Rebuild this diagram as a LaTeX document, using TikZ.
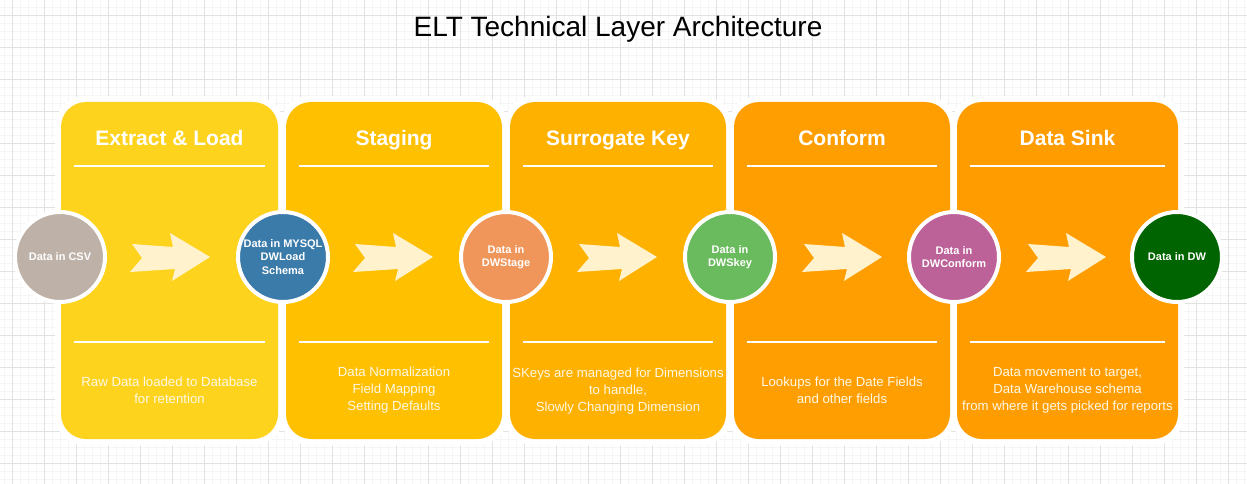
\documentclass[tikz,border=0pt]{standalone}
\usepackage{fontspec}
\setmainfont{Liberation Sans}
\definecolor{gridminor}{HTML}{F5F5F5}
\definecolor{gridmajor}{HTML}{E2E2E2}
\definecolor{pA}{HTML}{FED31E}
\definecolor{pB}{HTML}{FFC000}
\definecolor{pC}{HTML}{FFB100}
\definecolor{pD}{HTML}{FF9E00}
\definecolor{pE}{HTML}{FF9D00}
\definecolor{cA}{HTML}{BDB1A8}
\definecolor{cB}{HTML}{3B7BAA}
\definecolor{cC}{HTML}{F0965A}
\definecolor{cD}{HTML}{6ABB5D}
\definecolor{cE}{HTML}{BD6199}
\definecolor{cF}{HTML}{006400}
\definecolor{arrowcream}{HTML}{FFF2CC}
\definecolor{bodytext}{HTML}{FFF8E6}
\begin{document}
\begin{tikzpicture}[x=1pt,y=-1pt,
  halo/.style={fill=white, rounded corners=30pt},
  panelfill/.style={rounded corners=25pt},
  head/.style={text=white, font=\fontsize{21}{25}\selectfont\bfseries, inner sep=0pt, anchor=base},
  bodytxt/.style={text=bodytext, font=\fontsize{13.2}{17}\selectfont, align=center, inner sep=0pt},
  sepline/.style={draw=white, line width=2pt},
  datacircle/.style={circle, draw=white, line width=4pt, minimum size=90pt, inner sep=0pt,
     text=white, font=\fontsize{11}{13.5}\selectfont\bfseries, align=center},
  chevron/.style={fill=arrowcream},
  titletxt/.style={font=\fontsize{28}{32}\selectfont, text=black, inner sep=0pt, anchor=base}
]
\useasboundingbox (0,0) rectangle (1247,484);
\fill[white] (0,0) rectangle (1247,484);
% grid
\foreach \x in {4,12,...,1247} \draw[gridminor, line width=0.6pt] (\x,0) -- (\x,484);
\foreach \y in {7,15,...,484} \draw[gridminor, line width=0.6pt] (0,\y) -- (1247,\y);
\foreach \x in {12,44,...,1247} \draw[gridmajor, line width=0.8pt] (\x,0) -- (\x,484);
\foreach \y in {15,47,...,484} \draw[gridmajor, line width=0.8pt] (0,\y) -- (1247,\y);

% title
\node[titletxt] (title) at (618,37) {ELT Technical Layer Architecture};

% panel halos
\foreach \l/\r in {61/278, 286/502, 510/726, 734/950, 957/1178}{
  \path[halo] (\l-6,96) rectangle (\r+6,445);
}
% panels
\fill[pA, panelfill] (61,102) rectangle (278,439);
\fill[pB, panelfill] (286,102) rectangle (502,439);
\fill[pC, panelfill] (510,102) rectangle (726,439);
\fill[pD, panelfill] (734,102) rectangle (950,439);
\fill[pE, panelfill] (957,102) rectangle (1178,439);

% headers
\node[head] (h1) at (169.5,145.5) {Extract \& Load};
\node[head] (h2) at (394,145.5) {Staging};
\node[head] (h3) at (618,145.5) {Surrogate Key};
\node[head] (h4) at (842,145.5) {Conform};
\node[head] (h5) at (1067.5,145.5) {Data Sink};

% separator lines
\foreach \l/\r in {74/265, 299/489, 523/713, 747/937, 970/1165}{
  \draw[sepline] (\l,166) -- (\r,166);
  \draw[sepline] (\l,342) -- (\r,342);
}

% body texts
\node[bodytxt] (b1) at (169.5,390) {Raw Data loaded to Database\\for retention};
\node[bodytxt] (b2) at (394,390) {Data Normalization\\Field Mapping\\Setting Defaults};
\node[bodytxt] (b3) at (618,391) {SKeys are managed for Dimensions\\to handle,\\Slowly Changing Dimension};
\node[bodytxt] (b4) at (842,390) {Lookups for the Date Fields\\and other fields};
\node[bodytxt] (b5) at (1067.5,390) {Data movement to target,\\Data Warehouse schema\\from where it gets picked for reports};

% arrows
\foreach \cx in {170,393,617,842,1066}{
  \fill[chevron, shift={(\cx,257)}] (-38,-13) -- (3,-10) -- (0,-24) -- (40,0) -- (2,24) -- (5,12) -- (-40,15) -- (-28,1) -- cycle;
}

% data circles
\node[datacircle, fill=cA] (c1) at (60,257) {Data in CSV};
\node[datacircle, fill=cB] (c2) at (283,257) {Data in MYSQL\\DWLoad\\Schema};
\node[datacircle, fill=cC] (c3) at (506,257) {Data in\\DWStage};
\node[datacircle, fill=cD] (c4) at (730,257) {Data in\\DWSkey};
\node[datacircle, fill=cE] (c5) at (954,257) {Data in\\DWConform};
\node[datacircle, fill=cF] (c6) at (1177,257) {Data in DW};
\end{tikzpicture}
\end{document}
